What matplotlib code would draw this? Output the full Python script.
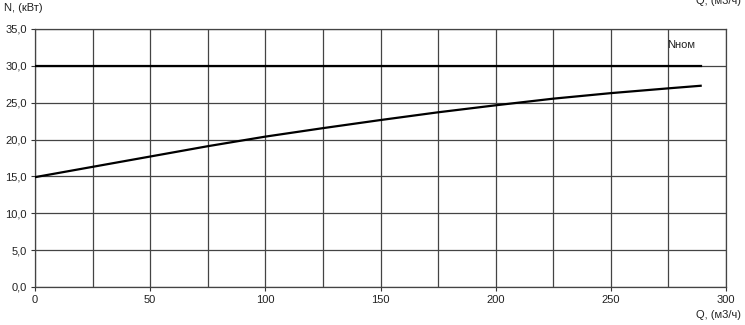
import matplotlib
matplotlib.use("Agg")
import matplotlib.pyplot as plt
import numpy as np

plt.rcParams['font.family'] = ['Liberation Sans', 'DejaVu Sans']

q_values = [0, 25, 50, 75, 100, 125, 150, 175, 200, 225, 250, 275, 289]
n_values = [14.9, 16.3, 17.7, 19.1, 20.4, 21.55, 22.65, 23.7, 24.65, 25.55, 26.3, 26.95, 27.3]
n_nom = 30.0
q_nom_range = [0, 289]

x_ticks = [0, 50, 100, 150, 200, 250, 300]
y_ticks = [0, 5, 10, 15, 20, 25, 30, 35]
y_tick_labels = ["0,0", "5,0", "10,0", "15,0", "20,0", "25,0", "30,0", "35,0"]

W, H = 745, 325
fig = plt.figure(figsize=(W / 100, H / 100), dpi=100)
ax = fig.add_axes([35 / W, 1 - 287 / H, (726 - 35) / W, (287 - 29) / H])

ax.set_xlim(0, 300)
ax.set_ylim(0, 35)
ax.set_xticks(x_ticks)
ax.set_xticks(np.arange(0, 301, 25), minor=True)
ax.set_yticks(y_ticks)
ax.set_yticklabels(y_tick_labels)
ax.tick_params(axis='both', which='major', length=3, width=0.8, color='#333333',
               labelsize=8, pad=3, labelcolor='#222222')
ax.tick_params(axis='both', which='minor', length=0)

ax.grid(True, which='both', color='#444444', linewidth=0.9)
ax.set_axisbelow(True)
for s in ax.spines.values():
    s.set_color('#444444')
    s.set_linewidth(0.9)

ax.plot(q_nom_range, [n_nom, n_nom], color='black', linewidth=1.6, zorder=3)
ax.plot(q_values, n_values, color='black', linewidth=1.6, zorder=3)

fig.text(4 / W, 1 - 8 / H, "N, (кВт)", fontsize=8, va='center', ha='left', color='#222222')
fig.text(667 / W, 1 - 45 / H, "Nном", fontsize=8, va='center', ha='left', color='#222222')
fig.text(741 / W, 1 - 315 / H, "Q, (м3/ч)", fontsize=8, va='center', ha='right', color='#222222')
fig.text(741 / W, 1 - 1 / H, "Q, (м3/ч)", fontsize=8, va='center', ha='right', color='#222222')

fig.savefig("out.png", dpi=100, facecolor='white')
